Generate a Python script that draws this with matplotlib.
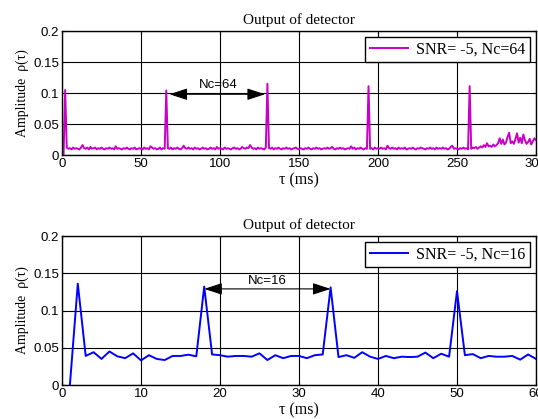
import numpy as np
import matplotlib.pyplot as plt
from matplotlib.patches import FancyArrowPatch

# detector output, Nc = 64 (tau = 1..300 ms)
tau64 = np.arange(1, 301)
rho64 = [
    0.000, 0.105, 0.012, 0.010, 0.011, 0.009, 0.012, 0.010, 0.011, 0.010,
    0.009, 0.012, 0.016, 0.011, 0.010, 0.012, 0.009, 0.013, 0.010, 0.011,
    0.012, 0.009, 0.011, 0.010, 0.012, 0.010, 0.009, 0.011, 0.010, 0.012,
    0.010, 0.011, 0.009, 0.014, 0.010, 0.011, 0.010, 0.009, 0.011, 0.010,
    0.012, 0.010, 0.009, 0.011, 0.010, 0.012, 0.009, 0.010, 0.011, 0.010,
    0.009, 0.012, 0.010, 0.011, 0.009, 0.014, 0.012, 0.010, 0.011, 0.009,
    0.010, 0.012, 0.009, 0.011, 0.010, 0.104, 0.011, 0.010, 0.012, 0.009,
    0.011, 0.010, 0.012, 0.010, 0.009, 0.011, 0.015, 0.011, 0.010, 0.012,
    0.010, 0.011, 0.009, 0.012, 0.010, 0.011, 0.009, 0.010, 0.012, 0.010,
    0.011, 0.009, 0.010, 0.012, 0.010, 0.011, 0.009, 0.013, 0.010, 0.011,
    0.010, 0.009, 0.012, 0.010, 0.011, 0.010, 0.009, 0.011, 0.012, 0.010,
    0.011, 0.009, 0.010, 0.013, 0.011, 0.010, 0.012, 0.011, 0.016, 0.012,
    0.010, 0.011, 0.009, 0.012, 0.010, 0.011, 0.010, 0.009, 0.012, 0.115,
    0.011, 0.010, 0.012, 0.009, 0.011, 0.010, 0.012, 0.010, 0.009, 0.011,
    0.010, 0.012, 0.010, 0.011, 0.009, 0.010, 0.011, 0.012, 0.010, 0.009,
    0.011, 0.010, 0.009, 0.011, 0.010, 0.012, 0.010, 0.009, 0.011, 0.010,
    0.012, 0.010, 0.011, 0.009, 0.010, 0.011, 0.010, 0.012, 0.010, 0.011,
    0.013, 0.010, 0.009, 0.011, 0.010, 0.012, 0.010, 0.011, 0.009, 0.010,
    0.011, 0.010, 0.014, 0.010, 0.012, 0.009, 0.011, 0.010, 0.012, 0.010,
    0.009, 0.011, 0.010, 0.111, 0.010, 0.011, 0.009, 0.012, 0.010, 0.011,
    0.010, 0.012, 0.010, 0.011, 0.009, 0.015, 0.011, 0.010, 0.012, 0.010,
    0.011, 0.009, 0.012, 0.010, 0.011, 0.010, 0.012, 0.009, 0.010, 0.011,
    0.010, 0.012, 0.010, 0.009, 0.011, 0.010, 0.012, 0.011, 0.010, 0.009,
    0.011, 0.010, 0.012, 0.010, 0.011, 0.009, 0.012, 0.010, 0.011, 0.010,
    0.012, 0.010, 0.011, 0.009, 0.010, 0.013, 0.015, 0.010, 0.011, 0.010,
    0.009, 0.011, 0.010, 0.012, 0.010, 0.011, 0.009, 0.111, 0.010, 0.012,
    0.011, 0.013, 0.010, 0.012, 0.014, 0.012, 0.016, 0.013, 0.019, 0.014,
    0.015, 0.013, 0.017, 0.014, 0.016, 0.019, 0.027, 0.018, 0.025, 0.017,
    0.020, 0.029, 0.036, 0.019, 0.022, 0.018, 0.026, 0.035, 0.020, 0.028,
    0.019, 0.033, 0.024, 0.018, 0.021, 0.026, 0.017, 0.022, 0.027, 0.024,
]

# detector output, Nc = 16 (tau = 1..60 ms)
tau16 = np.arange(1, 61)
rho16 = [
    0.000, 0.136, 0.039, 0.044, 0.035, 0.045, 0.0385, 0.036, 0.0425, 0.033,
    0.040, 0.035, 0.0335, 0.039, 0.039, 0.0407, 0.0385, 0.132, 0.041, 0.040,
    0.038, 0.039, 0.039, 0.038, 0.0425, 0.0335, 0.040, 0.036, 0.039, 0.039,
    0.036, 0.040, 0.041, 0.131, 0.0375, 0.040, 0.0365, 0.044, 0.038, 0.035,
    0.039, 0.036, 0.038, 0.0375, 0.038, 0.0435, 0.036, 0.042, 0.038, 0.126,
    0.040, 0.0415, 0.036, 0.039, 0.038, 0.038, 0.039, 0.034, 0.041, 0.035,
]

yticks = [0, 0.05, 0.1, 0.15, 0.2]
yticklabels = ['0', '0.05', '0.1', '0.15', '0.2']

serif = 'Liberation Serif'
sans = 'Liberation Sans'


def style_axes(ax, xlim, xticks):
    ax.set_xlim(xlim)
    ax.set_ylim(0, 0.2)
    ax.set_xticks(xticks)
    ax.set_xticklabels([str(t) for t in xticks], family=sans, fontsize=9.5)
    ax.set_yticks(yticks)
    ax.set_yticklabels(yticklabels, family=sans, fontsize=9.5)
    ax.tick_params(direction='in', top=True, right=True, length=2, pad=2, width=0.8)
    ax.grid(True, color='k', linestyle='-', linewidth=0.8)
    for s in ax.spines.values():
        s.set_linewidth(1.0)
    ax.set_xlabel('τ (ms)', family=serif, fontsize=11.5, labelpad=2)
    ax.set_ylabel('Amplitude  ρ(τ)', family=serif, fontsize=10, labelpad=3)
    ax.set_title('Output of detector', family=serif, fontsize=11, pad=5)


def arrow(ax, x0, x1, y):
    ar = FancyArrowPatch((x0, y), (x1, y), arrowstyle='<|-|>,head_length=1.1,head_width=0.36',
                         color='k', linewidth=0.8, mutation_scale=10, shrinkA=0, shrinkB=0)
    ax.add_patch(ar)


def legend(ax):
    leg = ax.legend(loc='upper right', prop={'family': serif, 'size': 11.5}, fancybox=False,
                    edgecolor='k', framealpha=1, handlelength=2.4, borderaxespad=0.35,
                    borderpad=0.3, handletextpad=0.5)
    leg.get_frame().set_linewidth(1.0)


fig = plt.figure(figsize=(5.38, 4.19), dpi=100)

ax1 = fig.add_axes([62 / 538, 264 / 419, 474 / 538, 124 / 419])
ax1.plot(tau64, rho64, color='#c800c8', linewidth=1.4, label='SNR= -5, Nc=64')
style_axes(ax1, (0, 300), [0, 50, 100, 150, 200, 250, 300])
arrow(ax1, 68, 128.5, 0.098)
ax1.text(99, 0.113, 'Nc=64', family=sans, fontsize=9.5, ha='center', va='center')
legend(ax1)

ax2 = fig.add_axes([62 / 538, 34 / 419, 474 / 538, 149 / 419])
ax2.plot(tau16, rho16, color='#0000ff', linewidth=1.4, label='SNR= -5, Nc=16')
style_axes(ax2, (0, 60), [0, 10, 20, 30, 40, 50, 60])
arrow(ax2, 18, 34, 0.129)
ax2.text(26, 0.139, 'Nc=16', family=sans, fontsize=9.5, ha='center', va='center')
legend(ax2)

fig.savefig('out.png', dpi=100)
